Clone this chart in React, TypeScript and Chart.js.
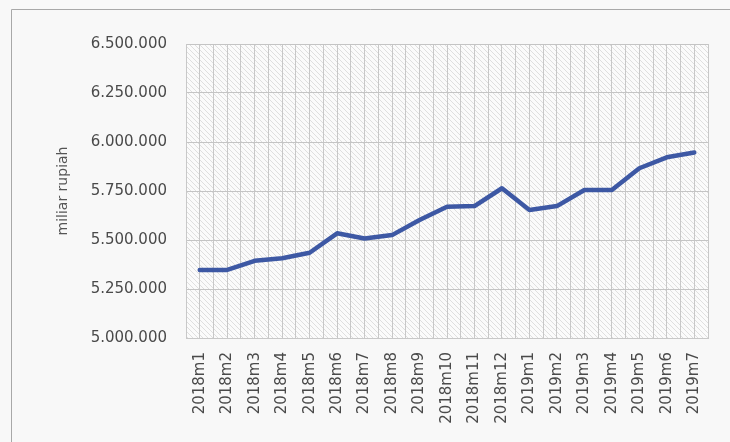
import React, { useEffect, useRef } from "react";
import { Chart, registerables } from "chart.js";

Chart.register(...registerables);

const categories = [
  "2018m1", "2018m2", "2018m3", "2018m4", "2018m5", "2018m6", "2018m7",
  "2018m8", "2018m9", "2018m10", "2018m11", "2018m12", "2019m1", "2019m2",
  "2019m3", "2019m4", "2019m5", "2019m6", "2019m7",
];
const values = [
  5347000, 5347000, 5394000, 5407000, 5435000, 5534000, 5508000,
  5525000, 5602000, 5670000, 5673000, 5764000, 5653000, 5673000,
  5755000, 5755000, 5866000, 5922000, 5946000,
];
const yTicks = [5000000, 5250000, 5500000, 5750000, 6000000, 6250000, 6500000];
const yTitle = "miliar rupiah";

function fmt(v: number): string {
  return Math.round(v).toString().replace(/\B(?=(\d{3})+(?!\d))/g, ".");
}

export default function App() {
  const ref = useRef<HTMLCanvasElement>(null);
  useEffect(() => {
    document.body.style.margin = "0";
    document.body.style.background = "#f8f8f8";
    const canvas = ref.current!;
    const pc = document.createElement("canvas");
    pc.width = 5;
    pc.height = 5;
    const pctx = pc.getContext("2d")!;
    pctx.fillStyle = "#fbfbfb";
    pctx.fillRect(0, 0, 5, 5);
    pctx.strokeStyle = "rgba(150,150,150,0.28)";
    pctx.lineWidth = 1;
    pctx.beginPath();
    pctx.moveTo(-1, -1);
    pctx.lineTo(6, 6);
    pctx.moveTo(-1, 4);
    pctx.lineTo(1, 6);
    pctx.moveTo(4, -1);
    pctx.lineTo(6, 1);
    pctx.stroke();

    const bgPlugin = {
      id: "bg",
      beforeDraw(chart: any) {
        const { ctx, chartArea } = chart;
        ctx.save();
        ctx.fillStyle = "#f8f8f8";
        ctx.fillRect(0, 0, chart.width, chart.height);
        ctx.strokeStyle = "#a8a8a8";
        ctx.lineWidth = 1;
        ctx.beginPath();
        ctx.moveTo(11.5, 442);
        ctx.lineTo(11.5, 9.5);
        ctx.lineTo(730, 9.5);
        ctx.stroke();
        const pat = ctx.createPattern(pc, "repeat");
        ctx.fillStyle = pat;
        ctx.fillRect(chartArea.left, chartArea.top, chartArea.right - chartArea.left, chartArea.bottom - chartArea.top);
        ctx.restore();
      },
    };

    const chart = new Chart(canvas, {
      type: "line",
      data: {
        datasets: [
          {
            data: values.map((v, i) => ({ x: i, y: v })),
            borderColor: "#3d58a4",
            borderWidth: 4.5,
            pointRadius: 0,
            tension: 0,
            borderJoinStyle: "round",
            borderCapStyle: "round",
          },
        ],
      },
      options: {
        animation: false,
        responsive: false,
        layout: { padding: { left: 50, right: 22, top: 44, bottom: 0 } },
        plugins: { legend: { display: false }, tooltip: { enabled: false } },
        scales: {
          x: {
            type: "linear",
            min: -0.5,
            max: 18.5,
            afterBuildTicks(scale: any) {
              const t = [];
              for (let i = -1; i <= 37; i++) t.push({ value: i / 2 });
              scale.ticks = t;
            },
            afterFit(scale: any) {
              scale.height = 104;
              scale.paddingLeft = 0;
              scale.paddingRight = 0;
            },
            grid: { color: "#c8c8c8", lineWidth: 1, drawTicks: false },
            border: { color: "#c8c8c8" },
            ticks: {
              autoSkip: false,
              minRotation: 90,
              maxRotation: 90,
              padding: 14,
              color: "#4a4a4a",
              font: { family: "DejaVu Sans", size: 15 },
              callback(v: any) {
                const n = Number(v);
                return Number.isInteger(n) ? categories[n] : "";
              },
            },
          },
          y: {
            min: 5000000,
            max: 6500000,
            afterBuildTicks(scale: any) {
              scale.ticks = yTicks.map((v) => ({ value: v }));
            },
            afterFit(scale: any) {
              scale.width = 186 - 50;
            },
            grid: { color: "#c4c4c4", lineWidth: 1, drawTicks: false },
            border: { color: "#c8c8c8" },
            ticks: {
              padding: 19,
              color: "#4a4a4a",
              font: { family: "DejaVu Sans", size: 15 },
              callback(v: any) {
                return fmt(Number(v));
              },
            },
            title: {
              display: true,
              text: yTitle,
              color: "#555",
              padding: { top: 5, bottom: 0 },
              font: { family: "DejaVu Sans", size: 14 },
            },
          },
        },
      },
      plugins: [bgPlugin],
    } as any);
    return () => chart.destroy();
  }, []);
  return <canvas ref={ref} width={730} height={442} style={{ display: "block" }} />;
}
